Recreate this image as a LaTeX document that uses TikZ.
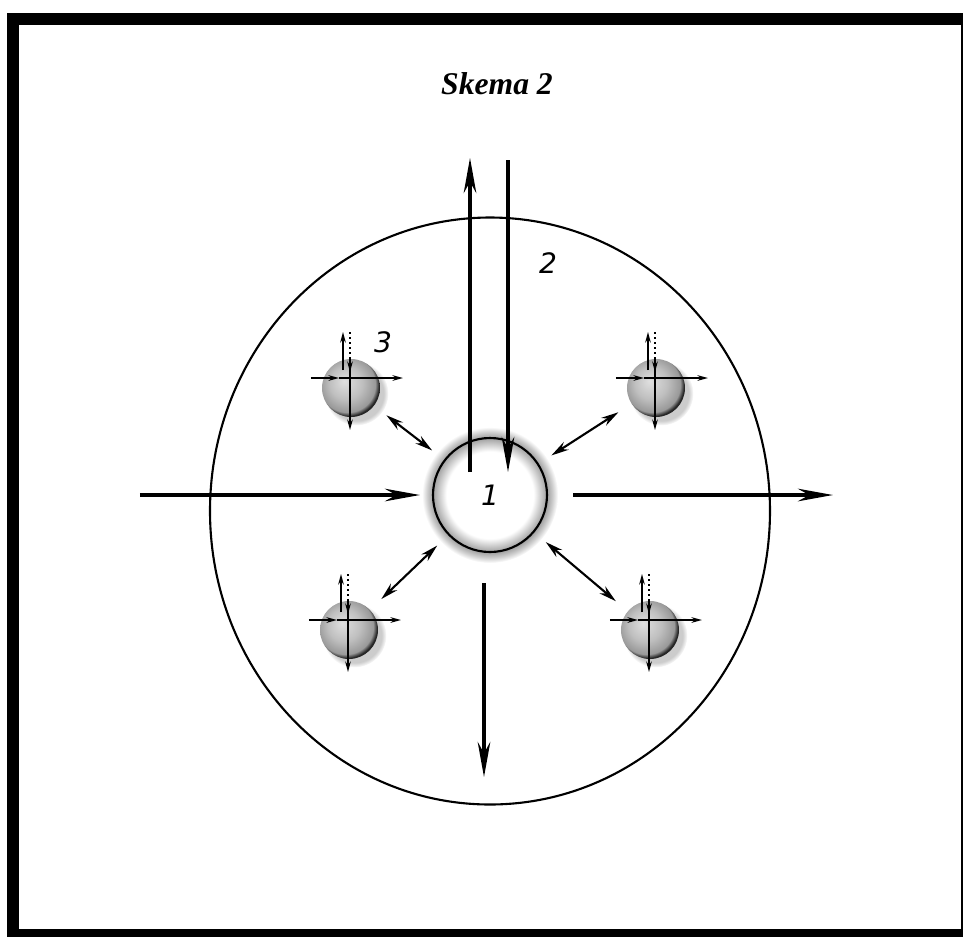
\documentclass[tikz,border=0pt]{standalone}
\usepackage{fontspec}
\setmainfont{Liberation Serif}
\newfontfamily\numfont{DejaVu Sans}
\usetikzlibrary{arrows.meta,positioning,shapes.geometric,shadows}

% ring around the central body
\pgfdeclareradialshading{corehalo}{\pgfpoint{0bp}{0bp}}{color(0bp)=(white); color(16bp)=(white); color(21bp)=(gray!75); color(23bp)=(gray!40); color(25bp)=(white); color(50bp)=(white)}
% small bodies, lit from the upper left
\pgfdeclareradialshading{minorball}{\pgfpoint{-6bp}{6bp}}{color(0bp)=(gray!25); color(14bp)=(gray!50); color(24bp)=(gray!80); color(27bp)=(black!85); color(50bp)=(black!85)}

\newcommand{\minicross}[1]{%
    \begin{scope}[shift={(#1)}]
        \draw[tiny] (-8,-18) -- (-8,-56);
        \draw[tiny, densely dotted] (-1,-56) -- (-1,-16);
        \draw[tiny] (-40,-10) -- (-12,-10);
        \draw[tiny] (-12,-10) -- (52,-10);
        \draw[tiny] (-1,-30) -- (-1,42);
    \end{scope}}

\begin{document}
\begin{tikzpicture}[
        x=0.1mm, y=-0.1mm,
        main/.style={-{Stealth[length=10pt,width=3.6pt]}, line width=0.9pt},
        dbl/.style={{Stealth[length=5pt,width=2.6pt]}-{Stealth[length=5pt,width=2.6pt]}, line width=0.6pt, shorten >=1.5mm, shorten <=1.5mm},
        tiny/.style={-{Stealth[length=3pt,width=1.6pt]}, line width=0.45pt},
        core/.style={circle, draw, line width=0.6pt, inner sep=0pt, minimum size=11.4mm, font=\numfont\itshape\fontsize{8}{9}\selectfont},
        minor/.style={circle, inner sep=0pt, minimum size=5.8mm, shading=minorball, circular drop shadow={shadow xshift=0.5mm, shadow yshift=-0.5mm, opacity=0.4}},
        numlabel/.style={font=\numfont\itshape\fontsize{8}{9}\selectfont}
    ]
    \useasboundingbox (0,0) rectangle (965,939);

    % frame
    \fill (7,13) rectangle (19,937);
    \fill (7,13) rectangle (963,25);
    \fill (7,929) rectangle (963,937);
    \draw[line width=0.5pt] (962,13) -- (962,937);

    \node[font=\bfseries\itshape\fontsize{9}{10}\selectfont] (title) at (497,84) {Skema 2};

    \node[ellipse, draw, line width=0.6pt, inner sep=0pt, minimum width=56mm, minimum height=58.7mm] (ring) at (490,511) {};

    \shade[shading=corehalo] (490,495) circle[radius=68];
    \node[core] (c1) at (490,495) {1};

    \node[minor] (s1) at (351,388) {};
    \node[minor] (s2) at (656,388) {};
    \node[minor] (s3) at (349,630) {};
    \node[minor] (s4) at (650,630) {};
    \foreach \s in {s1,s2,s3,s4} {\minicross{\s}}

    \node[numlabel] (lab2) at (548,263) {2};
    \node[numlabel] (lab3) at (383,342) {3};

    \coordinate (upfoot) at (470,472);
    \coordinate (uptip) at (470,158);
    \coordinate (dnstart) at (508,160);
    \coordinate (dntip) at (508,472);
    \coordinate (inflow) at (140,495);
    \coordinate (outflow) at (833,495);
    \coordinate (btip) at (484,777);

    \draw[main] (upfoot) -- (uptip);
    \draw[main] (dnstart) -- (dntip);
    \draw[main, shorten >=1.2mm] (inflow) -- (c1);
    \draw[main, shorten <=2.5mm] (c1) -- (outflow);
    \draw[main, shorten <=3mm] (c1.south -| btip) -- (btip);

    \draw[dbl] (s1) -- (c1);
    \draw[dbl] (s2) -- (c1);
    \draw[dbl] (s3) -- (c1);
    \draw[dbl] (s4) -- (c1);

\end{tikzpicture}
\end{document}
